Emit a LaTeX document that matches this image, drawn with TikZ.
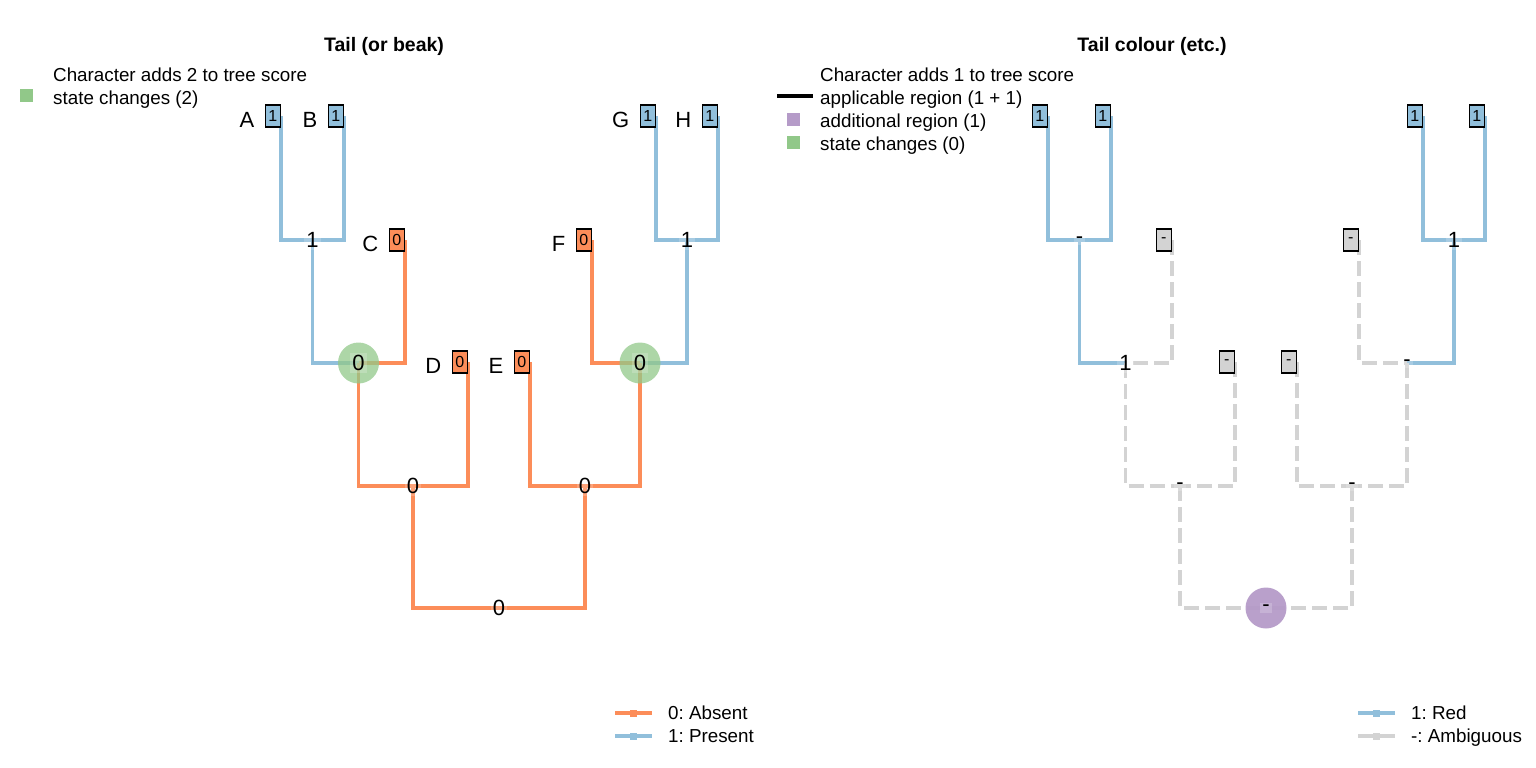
\documentclass[tikz,border=0pt]{standalone}
\usepackage{fontspec}
\setmainfont{Liberation Sans}
\usetikzlibrary{positioning, calc}
\definecolor{cabs}{HTML}{FC8D59}
\definecolor{cpres}{HTML}{91BFDB}
\definecolor{camb}{HTML}{D3D3D3}
\definecolor{cchg}{HTML}{91C889}
\definecolor{cadd}{HTML}{B59BC8}
\frenchspacing

\begin{document}
\begin{tikzpicture}[x=1pt, y=-1pt,
  font=\fontsize{18.8}{22}\selectfont,
  edge/.style={line width=3.5pt},
  absent/.style={edge, draw=cabs},
  present/.style={edge, draw=cpres},
  ambig/.style={edge, draw=camb, dash pattern=on 15pt off 6pt},
  tipbox/.style={draw, line width=1.5pt, minimum width=15pt, minimum height=22pt,
                 inner sep=0pt, anchor=east, font=\fontsize{16}{16}\selectfont},
  tiplab/.style={font=\fontsize{22}{22}\selectfont, inner sep=0pt,
                 left=10pt of #1.south west, anchor=base east},
  nodelab/.style={font=\fontsize{22}{22}\selectfont, fill=white, fill opacity=0.2,
                  text opacity=1, inner sep=2pt},
  change/.style={circle, fill=cchg, fill opacity=0.75, minimum size=41pt, inner sep=0pt},
  extra/.style={circle, fill=cadd, fill opacity=0.95, minimum size=41pt, inner sep=0pt},
  title/.style={font=\fontsize{19.5}{22}\selectfont\bfseries},
  key/.style={minimum size=13pt, inner sep=0pt},
  keymark/.style={minimum size=7pt, inner sep=0pt},
  keytext/.style={anchor=base west, inner sep=0pt},
  ]
\useasboundingbox (0,0) rectangle (1536,768);

\node[title] (ttlL) at (384,46) {Tail (or beak)};
\node[title] (ttlR) at (1152,46) {Tail colour (etc.)};

% legends at the top
\node[keytext] (kLa) at (53,81.5) {Character adds 2 to tree score};
\node[keytext] (kLb) at (53,104.5) {state changes (2)};
\node[key, fill=cchg] (kLg) at (26.5,95.5) {};
\node[keytext] (kRa) at (820,81.5) {Character adds 1 to tree score};
\node[keytext] (kRb) at (820,104.5) {applicable region (1 + 1)};
\node[keytext] (kRc) at (820,127.5) {additional region (1)};
\node[keytext] (kRd) at (820,150.5) {state changes (0)};
\coordinate (kRl1) at (777,96);
\coordinate (kRl2) at (813,96);
\draw[line width=3.5pt] (kRl1) -- (kRl2);
\node[key, fill=cadd] (kRp) at (793.5,119.5) {};
\node[key, fill=cchg] (kRg) at (793.5,142.5) {};

% both trees share one shape
\foreach \p/\dx in {l/0, r/767} {
  \coordinate (\p A) at (281+\dx,116);
  \coordinate (\p B) at (344+\dx,116);
  \coordinate (\p C) at (405+\dx,240);
  \coordinate (\p D) at (468+\dx,362);
  \coordinate (\p E) at (530+\dx,362);
  \coordinate (\p F) at (592+\dx,240);
  \coordinate (\p G) at (656+\dx,116);
  \coordinate (\p H) at (718+\dx,116);
  \coordinate (\p AB) at (312.5+\dx,240);
  \coordinate (\p ABC) at (358.5+\dx,363);
  \coordinate (\p ABCD) at (413+\dx,486);
  \coordinate (\p EFGH) at (585+\dx,486);
  \coordinate (\p FGH) at (640+\dx,363);
  \coordinate (\p GH) at (687+\dx,240);
  \coordinate (\p root) at (499+\dx,608);
}

% left tree
\draw[present] (lA) |- (lAB);
\draw[present] (lB) |- (lAB);
\draw[present] (lAB) |- (lABC);
\draw[absent] (lC) |- (lABC);
\draw[absent] (lABC) |- (lABCD);
\draw[absent] (lD) |- (lABCD);
\draw[absent] (lE) |- (lEFGH);
\draw[absent] (lF) |- (lFGH);
\draw[present] (lG) |- (lGH);
\draw[present] (lH) |- (lGH);
\draw[present] (lGH) |- (lFGH);
\draw[absent] (lFGH) |- (lEFGH);
\draw[absent] (lABCD) |- (lroot);
\draw[absent] (lEFGH) |- (lroot);

% right tree
\draw[present] (rA) |- (rAB);
\draw[present] (rB) |- (rAB);
\draw[present] (rAB) |- (rABC);
\draw[ambig] (rC) |- (rABC);
\draw[ambig] (rABC) |- (rABCD);
\draw[ambig] (rD) |- (rABCD);
\draw[ambig] (rE) |- (rEFGH);
\draw[ambig] (rF) |- (rFGH);
\draw[present] (rG) |- (rGH);
\draw[present] (rH) |- (rGH);
\draw[present] (rGH) |- (rFGH);
\draw[ambig] (rFGH) |- (rEFGH);
\draw[ambig] (rABCD) |- (rroot);
\draw[ambig] (rEFGH) |- (rroot);

\node[change] (chgL1) at (lABC) {};
\node[change] (chgL2) at (lFGH) {};
\node[extra] (addR) at (rroot) {};

% tips
\foreach \t/\s/\c in {A/1/cpres, B/1/cpres, C/0/cabs, D/0/cabs,
                      E/0/cabs, F/0/cabs, G/1/cpres, H/1/cpres} {
  \node[tipbox, fill=\c] (lb\t) at (l\t) {\s};
  \node[tiplab=lb\t] (lt\t) {\t};
}
\foreach \t/\s/\c in {A/1/cpres, B/1/cpres, C/-/camb, D/-/camb,
                      E/-/camb, F/-/camb, G/1/cpres, H/1/cpres} {
  \node[tipbox, fill=\c] (rb\t) at (r\t) {\s};
}

% node states
\node[nodelab] (lsAB) at (lAB) {1};
\node[nodelab] (lsABC) at (lABC) {0};
\node[nodelab] (lsABCD) at (lABCD) {0};
\node[nodelab] (lsEFGH) at (lEFGH) {0};
\node[nodelab] (lsFGH) at (lFGH) {0};
\node[nodelab] (lsGH) at (lGH) {1};
\node[nodelab] (lsroot) at (lroot) {0};
\node[nodelab] (rsAB) at (rAB) {-};
\node[nodelab] (rsABC) at (rABC) {1};
\node[nodelab] (rsABCD) at (rABCD) {-};
\node[nodelab] (rsEFGH) at (rEFGH) {-};
\node[nodelab] (rsFGH) at (rFGH) {-};
\node[nodelab] (rsGH) at (rGH) {1};
\node[nodelab] (rsroot) at (rroot) {-};

% legends at the bottom
\foreach \n/\x/\y/\c/\txt in {a/615/713/cabs/0: Absent, p/615/736/cpres/1: Present,
                              r/1358/713/cpres/1: Red, m/1358/736/camb/-: Ambiguous} {
  \coordinate (ks\n) at (\x,\y);
  \coordinate (ke\n) at (\x+37,\y);
  \draw[edge, draw=\c] (ks\n) -- (ke\n);
  \node[keymark, fill=\c] (km\n) at ($(ks\n)!0.5!(ke\n)$) {};
  \node[keytext] (kt\n) at (\x+53,\y+6.5) {\txt};
}
\end{tikzpicture}
\end{document}
